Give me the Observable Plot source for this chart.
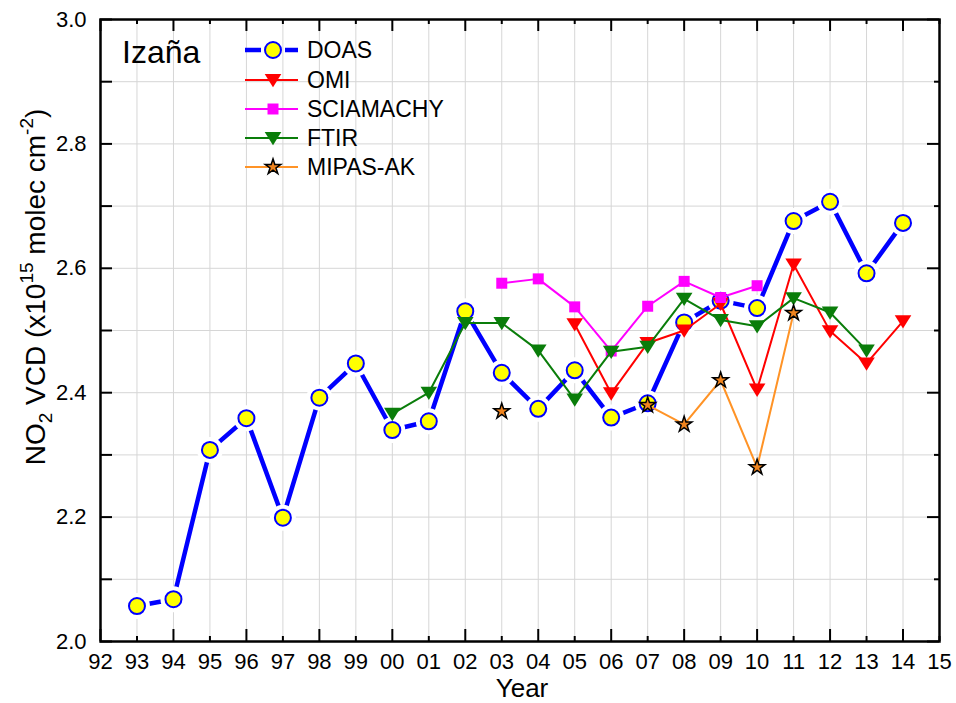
<!DOCTYPE html>
<html><head><meta charset="utf-8">
<script src="https://cdn.jsdelivr.net/npm/d3@7"></script>
<script src="https://cdn.jsdelivr.net/npm/@observablehq/plot@0.6"></script>
<style>
body{margin:0;background:#fff} svg{display:block}
#chart g[aria-label="x-axis tick label"] text, #chart g[aria-label="y-axis tick label"] text { font-size: 22px !important; }
</style>
</head><body><div id="chart"></div>
<script>
// ---- data ----
const doasYears = [1993,1994,1995,1996,1997,1998,1999,2000,2001,2002,2003,2004,2005,2006,2007,2008,2009,2010,2011,2012,2013,2014];
const doasValues = [2.057,2.068,2.308,2.359,2.199,2.392,2.447,2.340,2.354,2.531,2.432,2.374,2.436,2.360,2.383,2.513,2.548,2.536,2.676,2.707,2.592,2.673];
const omiYears = [2005,2006,2007,2008,2009,2010,2011,2012,2013,2014];
const omiValues = [2.510,2.399,2.480,2.500,2.543,2.405,2.606,2.499,2.447,2.515];
const sciaYears = [2003,2004,2005,2006,2007,2008,2009,2010];
const sciaValues = [2.576,2.583,2.538,2.467,2.539,2.579,2.553,2.572];
const ftirYears = [2000,2001,2002,2003,2004,2005,2006,2007,2008,2009,2010,2011,2012,2013];
const ftirValues = [2.366,2.400,2.512,2.512,2.468,2.389,2.466,2.474,2.551,2.517,2.507,2.552,2.529,2.468];
const mipasYears = [2003,2004,2005,2006,2007,2008,2009,2010,2011];
const mipasValues = [2.370,null,null,null,2.380,2.349,2.420,2.280,2.528];
const seriesNames = ["DOAS","OMI","SCIAMACHY","FTIR","MIPAS-AK"];
const xTickYears = d3.range(1992, 2016);
const yTickLabels = [2.0,2.2,2.4,2.6,2.8,3.0];
const yMinorTicks = [2.1,2.3,2.5,2.7,2.9];

// ---- tables ----
const toRows = (xs, ys) => xs.map((x, i) => ({x, y: ys[i]}));
const doas = toRows(doasYears, doasValues);
const omi = toRows(omiYears, omiValues);
const scia = toRows(sciaYears, sciaValues);
const ftir = toRows(ftirYears, ftirValues);
const mipas = toRows(mipasYears, mipasValues);
const yGrid = yTickLabels.concat(yMinorTicks);
const evenYears = xTickYears.filter(y => y % 2 === 0);
const oddYears = xTickYears.filter(y => y % 2 !== 0);

const triDown = {draw(ctx, size) {
  const r = Math.sqrt(size / Math.PI);
  ctx.moveTo(-r, -0.72 * r); ctx.lineTo(r, -0.72 * r); ctx.lineTo(0, 0.88 * r); ctx.closePath();
}};

const C = {doas: "#0000ff", omi: "#ff0000", scia: "#ff00ff", ftir: "#0a7d0a", mipas: "#ff9326", star: "#f0841e", grid: "#d6d6d6"};
const W = 956, H = 703, mL = 100, mR = 17, mT = 19, mB = 62;
const fh = H - mT - mB, fw = W - mL - mR;
const tickFont = 22;

const chart = Plot.plot({
  width: W, height: H, marginLeft: mL, marginRight: mR, marginTop: mT, marginBottom: mB,
  style: {fontFamily: "'Liberation Sans', Arial, sans-serif", fontSize: tickFont + "px", background: "white", color: "black"},
  x: {domain: [1992, 2015], label: null},
  y: {domain: [2, 3], label: null},
  marks: [
    Plot.ruleX(xTickYears, {x: d => d, stroke: C.grid, strokeWidth: 1}),
    Plot.ruleY(yGrid, {y: d => d, stroke: C.grid, strokeWidth: 1}),
    Plot.axisX({ticks: xTickYears, tickSize: 0, tickPadding: 12, fontSize: tickFont, tickFormat: d => String(d % 100).padStart(2, "0"), label: null}),
    Plot.axisY({ticks: yTickLabels, tickSize: 0, tickPadding: 14, fontSize: tickFont, tickFormat: d3.format(".1f"), label: null}),
    // inward ticks
    Plot.ruleY(yGrid, {y: d => d, insetRight: fw - 12, stroke: "black", strokeWidth: 2}),
    Plot.ruleY(yTickLabels, {y: d => d, insetLeft: fw - 12, stroke: "black", strokeWidth: 2}),
    Plot.ruleY(yMinorTicks, {y: d => d, insetLeft: fw - 5, stroke: "black", strokeWidth: 2}),
    Plot.ruleX(evenYears, {x: d => d, insetTop: fh - 12, stroke: "black", strokeWidth: 2}),
    Plot.ruleX(oddYears, {x: d => d, insetTop: fh - 5, stroke: "black", strokeWidth: 2}),
    Plot.ruleX(evenYears, {x: d => d, insetBottom: fh - 12, stroke: "black", strokeWidth: 2}),
    Plot.ruleX(oddYears, {x: d => d, insetBottom: fh - 5, stroke: "black", strokeWidth: 2}),
    // DOAS
    Plot.line(doas, {x: "x", y: "y", stroke: C.doas, strokeWidth: 4.5}),
    Plot.dot(doas, {x: "x", y: "y", r: 13, fill: "white", stroke: "none"}),
    Plot.dot(doas, {x: "x", y: "y", r: 8, fill: "#ffff00", stroke: C.doas, strokeWidth: 2}),
    // OMI
    Plot.line(omi, {x: "x", y: "y", stroke: C.omi, strokeWidth: 2}),
    Plot.dot(omi, {x: "x", y: "y", r: 8.3, symbol: triDown, fill: C.omi, stroke: "none"}),
    // SCIAMACHY
    Plot.line(scia, {x: "x", y: "y", stroke: C.scia, strokeWidth: 2}),
    Plot.dot(scia, {x: "x", y: "y", r: 6.2, symbol: "square", fill: C.scia, stroke: "none"}),
    // FTIR
    Plot.line(ftir, {x: "x", y: "y", stroke: C.ftir, strokeWidth: 2}),
    Plot.dot(ftir, {x: "x", y: "y", r: 8.3, symbol: triDown, fill: C.ftir, stroke: "none"}),
    // MIPAS-AK
    Plot.line(mipas, {x: "x", y: "y", stroke: C.mipas, strokeWidth: 2}),
    Plot.dot(mipas.filter(d => d.y != null), {x: "x", y: "y", r: 4.9, symbol: "star", fill: C.star, stroke: "black", strokeWidth: 1.5}),
    Plot.frame({stroke: "black", strokeWidth: 2.5})
  ]
});
document.getElementById("chart").appendChild(chart);

// ---- annotations: station name, legend, y title ----
const svg = d3.select(chart);
svg.selectAll('g[aria-label$="tick label"] text').style("font-size", tickFont + "px");
const font = "'Liberation Sans', Arial, sans-serif";
svg.append("text").attr("x", 122).attr("y", 63).attr("text-anchor", "start").attr("font-size", 32).attr("font-family", font).attr("fill", "black").text("Izaña");

const leg = svg.append("g").attr("font-family", font).attr("font-size", 23).attr("fill", "black").attr("text-anchor", "start");
const legRows = [50, 80, 109, 138, 167];
const sym = (type, r) => d3.symbol().type(type).size(Math.PI * r * r)();
seriesNames.forEach((name, i) => {
  const y = legRows[i];
  const g = leg.append("g").attr("transform", `translate(0,${y})`);
  if (i === 0) {
    g.append("line").attr("x1", 245).attr("x2", 261).attr("stroke", C.doas).attr("stroke-width", 4.5);
    g.append("line").attr("x1", 285).attr("x2", 298).attr("stroke", C.doas).attr("stroke-width", 4.5);
    g.append("circle").attr("cx", 273).attr("r", 8).attr("fill", "#ffff00").attr("stroke", C.doas).attr("stroke-width", 2);
  } else {
    const col = [null, C.omi, C.scia, C.ftir, C.mipas][i];
    g.append("line").attr("x1", 245).attr("x2", 298).attr("stroke", col).attr("stroke-width", 2);
    const p = g.append("path").attr("transform", "translate(273,0)");
    if (i === 1) p.attr("d", sym(triDown, 8.3)).attr("fill", C.omi);
    if (i === 2) p.attr("d", sym(d3.symbolSquare, 6.2)).attr("fill", C.scia);
    if (i === 3) p.attr("d", sym(triDown, 8.3)).attr("fill", C.ftir);
    if (i === 4) p.attr("d", sym(d3.symbolStar, 4.9)).attr("fill", C.star).attr("stroke", "black").attr("stroke-width", 1.5);
  }
  g.append("text").attr("x", 307).attr("dy", "0.36em").attr("text-anchor", "start").text(name);
});

const yt = svg.append("text").attr("transform", "translate(45,287) rotate(-90)")
  .attr("text-anchor", "middle").attr("font-family", font).attr("font-size", 28).attr("fill", "black");
yt.append("tspan").text("NO");
yt.append("tspan").attr("font-size", 19).attr("dy", 7).text("2");
yt.append("tspan").attr("dy", -7).text(" VCD (x10");
yt.append("tspan").attr("font-size", 19).attr("dy", -12).text("15");
yt.append("tspan").attr("dy", 12).text(" molec cm");
yt.append("tspan").attr("font-size", 19).attr("dy", -12).text("-2");
yt.append("tspan").attr("dy", 12).text(")");

svg.append("text").attr("x", 522).attr("y", 697).attr("text-anchor", "middle").attr("font-family", font).attr("font-size", 26).attr("fill", "black").text("Year");
</script>
</body></html>
